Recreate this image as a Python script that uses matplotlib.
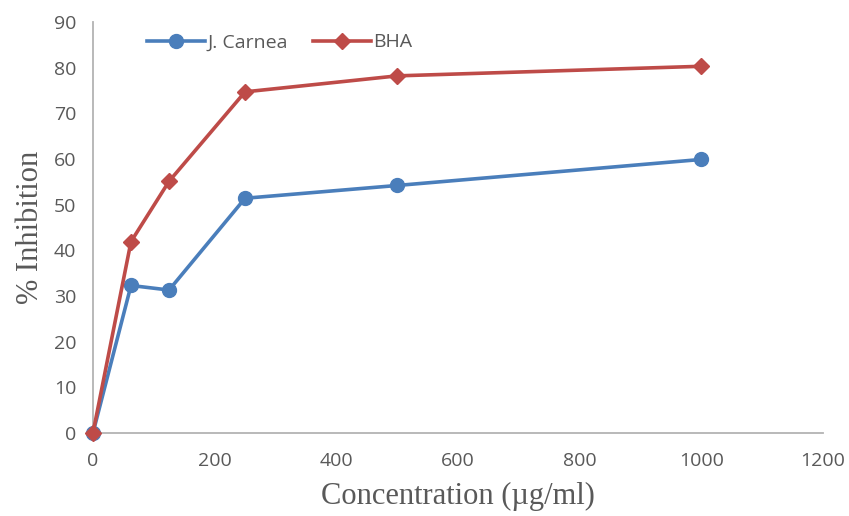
import matplotlib
matplotlib.use("Agg")
import matplotlib.pyplot as plt

# concentrations (ug/ml) and % inhibition
conc = [0, 62.5, 125, 250, 500, 1000]
j_carnea = [0, 32.3, 31.3, 51.4, 54.2, 59.9]
bha = [0, 41.9, 55.1, 74.7, 78.2, 80.3]

blue = "#4a7ebb"
red = "#be4b48"
grey = "#595959"

fig = plt.figure(figsize=(8.49, 5.16), dpi=100)
ax = fig.add_axes([0.1095, 0.1609, 0.86, 0.7965])

ax.plot(conc, j_carnea, color=blue, lw=2.6, marker="o", ms=10, label="J. Carnea", clip_on=False, zorder=3)
ax.plot(conc, bha, color=red, lw=2.6, marker="D", ms=8.5, label="BHA", clip_on=False, zorder=4)

ax.set_xlim(0, 1200)
ax.set_ylim(0, 90)
ax.set_xticks(range(0, 1201, 200))
ax.set_yticks(range(0, 91, 10))

for s in ["top", "right"]:
    ax.spines[s].set_visible(False)
for s in ["left", "bottom"]:
    ax.spines[s].set_color("#b3b3b3")
    ax.spines[s].set_linewidth(1.3)
ax.tick_params(length=0, labelsize=14, labelcolor=grey)
ax.tick_params(axis="x", pad=14)
ax.tick_params(axis="y", pad=12)
for lab in ax.get_xticklabels() + ax.get_yticklabels():
    lab.set_family("Open Sans")

ax.set_xlabel("Concentration (µg/ml)", family="Liberation Serif", fontsize=22, color=grey, labelpad=8)
ax.set_ylabel("% Inhibition", family="Liberation Serif", fontsize=22, color=grey, labelpad=6)

leg = ax.legend(loc="upper left", bbox_to_anchor=(0.05, 1.015), ncol=2, frameon=False,
                prop={"family": "Open Sans", "size": 14}, handlelength=3.0,
                columnspacing=1.3, handletextpad=0.1)
for t in leg.get_texts():
    t.set_color(grey)

fig.savefig("out.png", dpi=100)
